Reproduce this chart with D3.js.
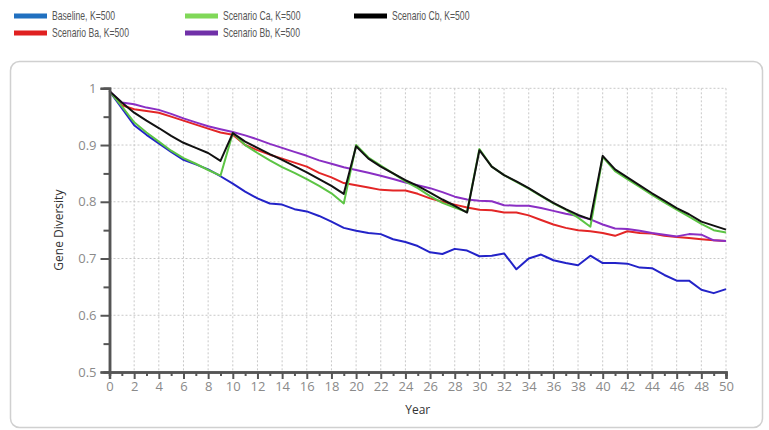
<!DOCTYPE html>
<html>
<head>
<meta charset="utf-8">
<script src="https://cdn.jsdelivr.net/npm/d3@7"></script>
<style>
  html, body { margin: 0; padding: 0; background: #fff; }
  svg { display: block; }
</style>
</head>
<body>
<svg id="chart" width="769" height="430"></svg>
<script>
const years = d3.range(0, 51);

const baseline = [0.995,0.965,0.935,0.918,0.903,0.888,0.874,0.866,0.857,0.845,
  0.832,0.818,0.806,0.797,0.795,0.787,0.783,0.775,0.765,0.754,
  0.749,0.745,0.743,0.734,0.729,0.722,0.711,0.708,0.717,0.714,
  0.704,0.705,0.709,0.681,0.700,0.707,0.697,0.692,0.688,0.705,
  0.692,0.692,0.691,0.684,0.683,0.671,0.661,0.661,0.645,0.639,0.646];

const scenarioBa = [0.995,0.970,0.963,0.960,0.957,0.950,0.943,0.936,0.929,0.922,
  0.918,0.900,0.891,0.883,0.876,0.869,0.862,0.851,0.843,0.833,
  0.829,0.825,0.821,0.820,0.820,0.814,0.806,0.800,0.795,0.790,
  0.786,0.785,0.781,0.781,0.776,0.768,0.760,0.754,0.750,0.748,
  0.745,0.740,0.748,0.745,0.744,0.740,0.738,0.736,0.734,0.732,0.731];

const scenarioBb = [0.995,0.975,0.972,0.966,0.962,0.955,0.947,0.940,0.933,0.928,
  0.923,0.917,0.910,0.902,0.895,0.888,0.881,0.873,0.867,0.861,
  0.856,0.851,0.846,0.840,0.834,0.829,0.824,0.817,0.809,0.804,
  0.802,0.801,0.794,0.793,0.793,0.789,0.784,0.779,0.775,0.769,
  0.760,0.753,0.752,0.749,0.745,0.742,0.739,0.743,0.742,0.732,0.731];

const scenarioCa = [0.995,0.968,0.940,0.922,0.906,0.890,0.877,0.867,0.856,0.846,
  0.921,0.900,0.886,0.873,0.861,0.851,0.840,0.828,0.815,0.797,
  0.900,0.878,0.864,0.850,0.836,0.824,0.810,0.798,0.790,0.782,
  0.893,0.862,0.847,0.835,0.823,0.810,0.797,0.786,0.772,0.756,
  0.879,0.854,0.840,0.826,0.812,0.799,0.786,0.774,0.761,0.750,0.746];

const scenarioCb = [0.995,0.975,0.957,0.943,0.930,0.916,0.904,0.895,0.886,0.872,
  0.921,0.906,0.895,0.884,0.874,0.863,0.852,0.840,0.828,0.814,
  0.898,0.876,0.862,0.850,0.838,0.828,0.816,0.804,0.793,0.781,
  0.891,0.862,0.847,0.836,0.824,0.811,0.798,0.787,0.777,0.769,
  0.881,0.857,0.843,0.829,0.815,0.802,0.789,0.778,0.765,0.758,0.751];

const seriesNames = ["Baseline, K=500", "Scenario Ba, K=500", "Scenario Ca, K=500", "Scenario Bb, K=500", "Scenario Cb, K=500"];
const lineColors = ["#2323c8", "#e32626", "#5cc444", "#8a2fc4", "#111111"];
const legendColors = ["#2070c0", "#e02020", "#80d858", "#7030a8", "#000000"];
const seriesData = [baseline, scenarioBa, scenarioCa, scenarioBb, scenarioCb];
const drawOrder = [0, 1, 3, 2, 4];

const yMajorTicks = [0.5, 0.6, 0.7, 0.8, 0.9, 1];
const yTickLabels = ["0.5", "0.6", "0.7", "0.8", "0.9", "1"];
const xLabelTicks = d3.range(0, 51, 2);

const svg = d3.select("#chart");
const font = "'Liberation Sans', Arial, sans-serif";

// panel
svg.append("rect")
  .attr("x", 10.5).attr("y", 61.5).attr("width", 752).attr("height", 366)
  .attr("rx", 9).attr("fill", "#fff").attr("stroke", "#d0d0d0").attr("stroke-width", 1.5);

const x = d3.scaleLinear().domain([0, 50]).range([109.5, 726]);
const y = d3.scaleLinear().domain([0.5, 1]).range([372, 88.3]);

// grid
const grid = svg.append("g");
grid.selectAll("line.v").data(xLabelTicks.filter(d => d > 0)).enter().append("line")
  .attr("x1", d => x(d)).attr("x2", d => x(d)).attr("y1", y(1)).attr("y2", y(0.5))
  .attr("stroke", "#c8c8c8").attr("stroke-width", 1).attr("stroke-dasharray", "2,2");
grid.selectAll("line.h").data(yMajorTicks.filter(d => d > 0.5)).enter().append("line")
  .attr("x1", x(0)).attr("x2", x(50)).attr("y1", d => y(d)).attr("y2", d => y(d))
  .attr("stroke", "#c8c8c8").attr("stroke-width", 1).attr("stroke-dasharray", "2,2");

// lines
const line = d3.line().x((d, i) => x(years[i])).y(d => y(d));
const lines = svg.append("g");
drawOrder.forEach(k => {
  lines.append("path").datum(seriesData[k])
    .attr("d", line).attr("fill", "none")
    .attr("stroke", lineColors[k]).attr("stroke-width", 2)
    .attr("stroke-linejoin", "round");
});

// y axis
const yAxisMajor = d3.axisLeft(y).tickValues(yMajorTicks).tickSize(9)
  .tickFormat((d, i) => yTickLabels[i]);
const yAxisMinor = d3.axisLeft(y).tickValues(d3.range(0.55, 1, 0.1)).tickSize(6).tickFormat("");
const gy = svg.append("g").attr("transform", `translate(${x(0)},0)`);
gy.call(yAxisMajor);
gy.append("g").call(yAxisMinor);
gy.selectAll(".domain").attr("stroke", "#555").attr("stroke-width", 2.5);
gy.selectAll(".tick line").attr("stroke", "#555").attr("stroke-width", 2);
gy.selectAll(".tick text").attr("fill", "#8a8a8a").attr("font-size", 13)
  .attr("font-family", "'Open Sans', 'DejaVu Sans', sans-serif").attr("x", -13);

// x axis
const xAxisMajor = d3.axisBottom(x).tickValues(xLabelTicks).tickSize(7).tickFormat(d3.format("d"));
const xAxisMinor = d3.axisBottom(x).tickValues(d3.range(1, 50, 2)).tickSize(4).tickFormat("");
const gx = svg.append("g").attr("transform", `translate(0,${y(0.5)})`);
gx.call(xAxisMajor);
gx.append("g").call(xAxisMinor);
gx.selectAll(".domain").attr("stroke", "#555").attr("stroke-width", 2.5);
gx.selectAll(".tick line").attr("stroke", "#555").attr("stroke-width", 2);
gx.selectAll(".tick text").attr("fill", "#8a8a8a").attr("font-size", 13)
  .attr("font-family", "'Open Sans', 'DejaVu Sans', sans-serif").attr("y", 10);

// axis titles
svg.append("text").attr("x", x(25)).attr("y", 414).attr("text-anchor", "middle")
  .attr("font-family", "'Open Sans', 'DejaVu Sans', sans-serif").attr("font-size", 12)
  .attr("fill", "#333").text("Year");
svg.append("text").attr("transform", `translate(63,${y(0.75)}) rotate(-90)`)
  .attr("text-anchor", "middle")
  .attr("font-family", "'Open Sans', 'DejaVu Sans', sans-serif").attr("font-size", 12)
  .attr("fill", "#333").text("Gene Diversity");

// legend
const legendPos = [[14, 16], [14, 33], [185, 16], [185, 33], [354, 16]];
const lg = svg.append("g");
seriesNames.forEach((name, i) => {
  const [lx, ly] = legendPos[i];
  lg.append("rect").attr("x", lx).attr("y", ly - 2.5).attr("width", 33).attr("height", 5)
    .attr("fill", legendColors[i]);
  lg.append("text").attr("transform", `translate(${lx + 38},${ly + 4}) scale(0.72,1)`)
    .attr("font-family", font).attr("font-size", 12).attr("fill", "#555").text(name);
});
</script>
</body>
</html>
